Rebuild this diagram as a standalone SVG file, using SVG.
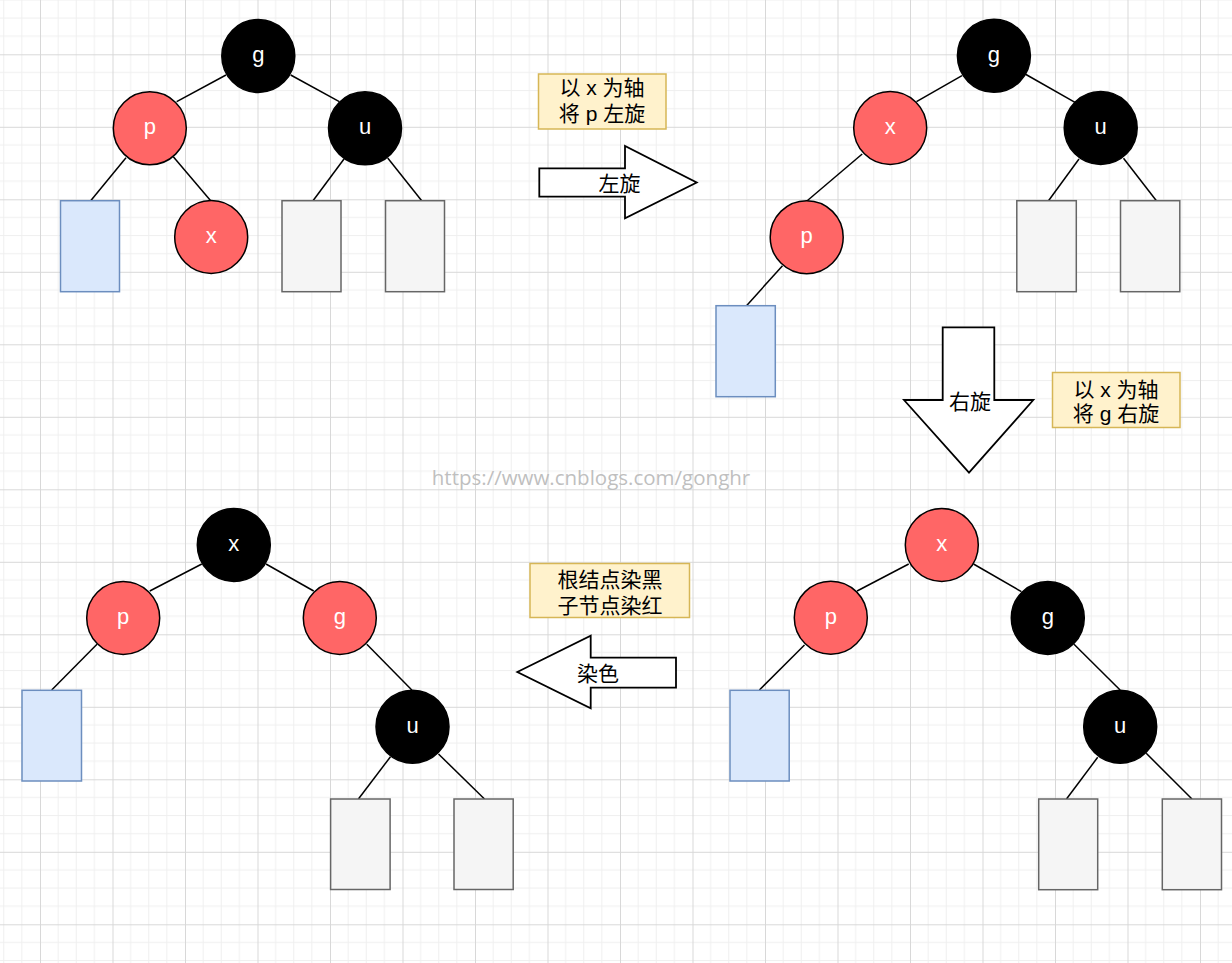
<svg xmlns="http://www.w3.org/2000/svg" width="1232" height="963" viewBox="0 0 1232 963">
<defs>
<pattern id="grid" patternUnits="userSpaceOnUse" x="40" y="54.3" width="72.5" height="72.5">
<path d="M18.125 0V72.5M36.25 0V72.5M54.375 0V72.5M0 18.125H72.5M0 36.25H72.5M0 54.375H72.5" stroke="#efefef" stroke-width="1" fill="none"/>
<path d="M0.5 0V72.5M0 0.5H72.5" stroke="#d8d8d8" stroke-width="1" fill="none"/>
</pattern>
</defs>
<style>
.edge{stroke:#000;stroke-width:1.5;fill:none}
.red{fill:#ff6666;stroke:#000;stroke-width:1.5}
.blk{fill:#000;stroke:#000;stroke-width:1.5}
.lbl{font-family:"Liberation Sans",Arial,sans-serif;font-size:22px;fill:#fff;text-anchor:middle}
.leaf{fill:#dae8fc;stroke:#6c8ebf;stroke-width:1.5}
.nil{fill:#f5f5f5;stroke:#666;stroke-width:1.5}
.note{fill:#fff2cc;stroke:#d6b656;stroke-width:1.5}
.arrow{fill:#fff;stroke:#000;stroke-width:1.8}
.cn{font-family:"Liberation Sans","Noto Sans CJK SC",sans-serif;font-size:21px;fill:#000;text-anchor:middle}
.wm{font-family:"Open Sans","Liberation Sans",sans-serif;font-size:20.5px;fill:#bfbfbf;text-anchor:middle}
</style>
<rect x="0" y="0" width="1232" height="963" fill="#fff"/>
<rect x="0" y="0" width="1232" height="963" fill="url(#grid)"/>

<g id="connectors">
<line class="edge" x1="226" y1="75" x2="176.7" y2="101.7"/>
<line class="edge" x1="290.7" y1="75" x2="339.3" y2="101.7"/>
<line class="edge" x1="126" y1="157.7" x2="90.7" y2="200.7"/>
<line class="edge" x1="173.3" y1="156.7" x2="210.7" y2="200.7"/>
<line class="edge" x1="344" y1="159" x2="313" y2="200.7"/>
<line class="edge" x1="387.7" y1="158" x2="421.7" y2="200.7"/>
<line class="edge" x1="962" y1="75.7" x2="916.5" y2="101.7"/>
<line class="edge" x1="1025.1" y1="74" x2="1075" y2="102.3"/>
<line class="edge" x1="862.2" y1="154" x2="806.9" y2="201"/>
<line class="edge" x1="782.5" y1="265.7" x2="746.5" y2="305.7"/>
<line class="edge" x1="1079" y1="159" x2="1048.5" y2="200.7"/>
<line class="edge" x1="1123.5" y1="158.3" x2="1156.4" y2="200.7"/>
<line class="edge" x1="908.7" y1="564" x2="857.1" y2="591"/>
<line class="edge" x1="973.5" y1="564" x2="1021.4" y2="591.7"/>
<line class="edge" x1="804.5" y1="645" x2="759.4" y2="690"/>
<line class="edge" x1="1074" y1="644.3" x2="1120.1" y2="690"/>
<line class="edge" x1="1097.7" y1="757.3" x2="1066.5" y2="799"/>
<line class="edge" x1="1146.2" y1="753.3" x2="1192" y2="799"/>
<line class="edge" x1="201.8" y1="564" x2="149.8" y2="591"/>
<line class="edge" x1="266" y1="564" x2="313.7" y2="591"/>
<line class="edge" x1="97" y1="644.3" x2="51.7" y2="690"/>
<line class="edge" x1="366.8" y1="644.3" x2="411.8" y2="690"/>
<line class="edge" x1="390.5" y1="756.7" x2="358.4" y2="799"/>
<line class="edge" x1="438.5" y1="754" x2="484.5" y2="799"/>
</g>

<g id="t1-g"><circle class="blk" cx="258.3" cy="56" r="36.5"/><text class="lbl" x="258.3" y="62">g</text></g>
<g id="t1-p"><circle class="red" cx="149.8" cy="128.3" r="36.5"/><text class="lbl" x="149.8" y="134.3">p</text></g>
<g id="t1-u"><circle class="blk" cx="365" cy="128.3" r="36.5"/><text class="lbl" x="365" y="134.3">u</text></g>
<g id="t1-x"><circle class="red" cx="211.2" cy="237" r="36.5"/><text class="lbl" x="211.2" y="243">x</text></g>
<g id="t1-leaf"><rect class="leaf" x="60.5" y="200.7" width="59" height="91"/></g>
<g id="t1-nil1"><rect class="nil" x="282" y="200.7" width="59" height="91"/></g>
<g id="t1-nil2"><rect class="nil" x="385.5" y="200.7" width="59" height="91"/></g>

<g id="t2-g"><circle class="blk" cx="993.9" cy="55.8" r="36.5"/><text class="lbl" x="993.9" y="61.8">g</text></g>
<g id="t2-x"><circle class="red" cx="890.2" cy="128" r="36.5"/><text class="lbl" x="890.2" y="134">x</text></g>
<g id="t2-u"><circle class="blk" cx="1100.7" cy="128" r="36.5"/><text class="lbl" x="1100.7" y="134">u</text></g>
<g id="t2-p"><circle class="red" cx="806.7" cy="237.2" r="36.5"/><text class="lbl" x="806.7" y="243.2">p</text></g>
<g id="t2-leaf"><rect class="leaf" x="716" y="305.7" width="59.3" height="91"/></g>
<g id="t2-nil1"><rect class="nil" x="1016.8" y="200.7" width="59.5" height="91"/></g>
<g id="t2-nil2"><rect class="nil" x="1120.5" y="200.7" width="59.3" height="91"/></g>

<g id="t3-x"><circle class="red" cx="941.8" cy="545" r="36.5"/><text class="lbl" x="941.8" y="551">x</text></g>
<g id="t3-p"><circle class="red" cx="830.8" cy="617.7" r="36.5"/><text class="lbl" x="830.8" y="623.7">p</text></g>
<g id="t3-g"><circle class="blk" cx="1047.8" cy="618" r="36.5"/><text class="lbl" x="1047.8" y="624">g</text></g>
<g id="t3-u"><circle class="blk" cx="1120.2" cy="726.7" r="36.5"/><text class="lbl" x="1120.2" y="732.7">u</text></g>
<g id="t3-leaf"><rect class="leaf" x="730" y="690.3" width="59.2" height="90.7"/></g>
<g id="t3-nil1"><rect class="nil" x="1038.7" y="799" width="59" height="90.7"/></g>
<g id="t3-nil2"><rect class="nil" x="1162.3" y="799" width="59.2" height="90.7"/></g>

<g id="t4-x"><circle class="blk" cx="233.8" cy="545" r="36.5"/><text class="lbl" x="233.8" y="551">x</text></g>
<g id="t4-p"><circle class="red" cx="123.2" cy="618" r="36.5"/><text class="lbl" x="123.2" y="624">p</text></g>
<g id="t4-g"><circle class="red" cx="339.8" cy="618" r="36.5"/><text class="lbl" x="339.8" y="624">g</text></g>
<g id="t4-u"><circle class="blk" cx="412.5" cy="726.7" r="36.5"/><text class="lbl" x="412.5" y="732.7">u</text></g>
<g id="t4-leaf"><rect class="leaf" x="22" y="690.3" width="59.5" height="90.7"/></g>
<g id="t4-nil1"><rect class="nil" x="330.6" y="799" width="59.5" height="90.5"/></g>
<g id="t4-nil2"><rect class="nil" x="454" y="799" width="59.2" height="90.5"/></g>

<g id="note1"><rect class="note" x="538.5" y="74" width="127.5" height="55"/>
<text class="cn" x="602" y="95">以 x 为轴</text><text class="cn" x="602" y="121">将 p 左旋</text></g>
<g id="note2"><rect class="note" x="1052.5" y="372.5" width="127.5" height="55"/>
<text class="cn" x="1116" y="397">以 x 为轴</text><text class="cn" x="1116" y="421">将 g 右旋</text></g>
<g id="note3"><rect class="note" x="530" y="563.5" width="159.5" height="54"/>
<text class="cn" x="610" y="587">根结点染黑</text><text class="cn" x="610" y="613">子节点染红</text></g>

<g id="arrow-left-rotate"><polygon class="arrow" points="539.3,168.3 625,168.3 625,146 696.7,182.5 625,218.3 625,196.7 539.3,196.7"/>
<text class="cn" x="619.5" y="191">左旋</text></g>
<g id="arrow-right-rotate"><polygon class="arrow" points="942.7,327.3 994.3,327.3 994.3,400 1033.3,400 969,472.7 904,400 942.7,400"/>
<text class="cn" x="970" y="409">右旋</text></g>
<g id="arrow-recolor"><polygon class="arrow" points="517.3,672 590.7,635.7 590.7,657.7 676,657.7 676,687.7 590.7,687.7 590.7,708.3"/>
<text class="cn" x="598" y="681">染色</text></g>

<text class="wm" x="591" y="485">https://www.cnblogs.com/gonghr</text>
</svg>
